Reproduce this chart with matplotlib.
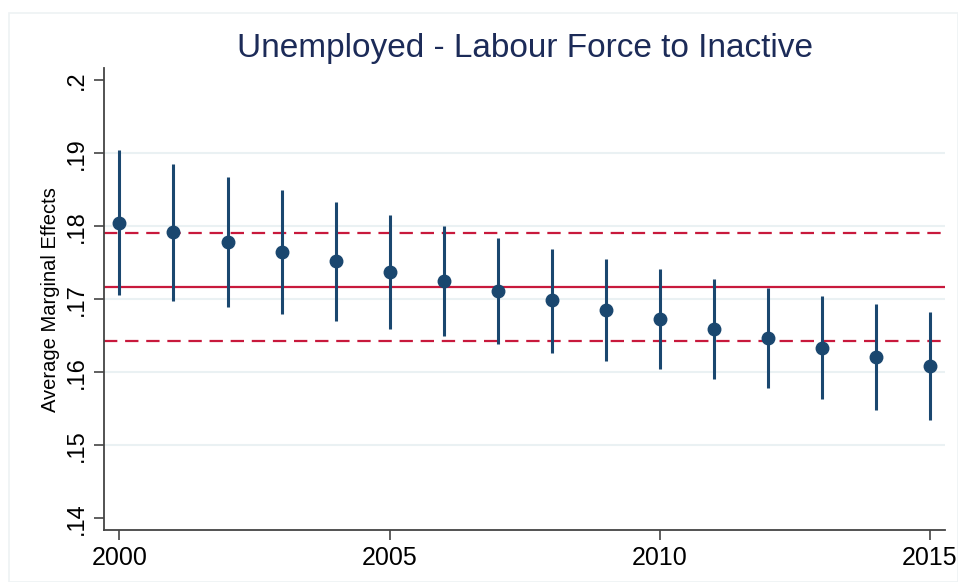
import matplotlib
matplotlib.use("Agg")
import matplotlib.pyplot as plt
from matplotlib.patches import Rectangle

years = list(range(2000, 2016))
margins = [0.1805, 0.1792, 0.1778, 0.1765, 0.1752, 0.1738, 0.1725, 0.1712,
           0.1699, 0.1685, 0.1673, 0.1660, 0.1647, 0.1634, 0.1621, 0.1609]
ci_upper = [0.1904, 0.1885, 0.1867, 0.1850, 0.1833, 0.1816, 0.1800, 0.1784,
            0.1769, 0.1755, 0.1741, 0.1728, 0.1716, 0.1704, 0.1693, 0.1682]
ci_lower = [0.1706, 0.1698, 0.1689, 0.1680, 0.1670, 0.1660, 0.1650, 0.1639,
            0.1627, 0.1616, 0.1604, 0.1591, 0.1578, 0.1564, 0.1549, 0.1535]

pooled = 0.1717
pooled_upper = 0.1791
pooled_lower = 0.1643

yticks = [0.14, 0.15, 0.16, 0.17, 0.18, 0.19, 0.20]
ytick_labels = [".14", ".15", ".16", ".17", ".18", ".19", ".2"]
xticks = [2000, 2005, 2010, 2015]

navy = "#1a476f"
red = "#c8193c"
title_color = "#1c2b58"

plt.rcParams["font.family"] = ["Liberation Sans", "DejaVu Sans"]

fig = plt.figure(figsize=(9.58, 5.82), dpi=100)
ax = fig.add_axes([0.1089, 0.0888, 0.8775, 0.7938])

# faint outline of the graph region
fig.patches.append(Rectangle((9 / 958, 0), 1 - 9 / 958, 1 - 13 / 582,
                             transform=fig.transFigure, fill=False,
                             edgecolor="#eef2f4", linewidth=1.2))

# reference lines for the pooled estimate
ax.axhline(pooled, color=red, linewidth=1.6, zorder=2)
ax.axhline(pooled_upper, color=red, linewidth=1.6, linestyle=(0, (6, 3.5)), zorder=2)
ax.axhline(pooled_lower, color=red, linewidth=1.6, linestyle=(0, (6, 3.5)), zorder=2)

# confidence intervals and point estimates
ax.vlines(years, ci_lower, ci_upper, color=navy, linewidth=2.2, zorder=3)
ax.plot(years, margins, "o", color=navy, markersize=9, zorder=4)

ax.set_xlim(1999.72, 2015.28)
ax.set_ylim(0.13836, 0.20164)
ax.set_xticks(xticks)
ax.set_yticks(yticks)
ax.set_yticklabels(ytick_labels, rotation=90, va="center")
ax.tick_params(axis="both", direction="out", length=7, width=1.2,
               color="#444444", labelsize=17, pad=5)
ax.tick_params(axis="x", labelsize=18, pad=4)

ax.grid(axis="y", color="#eaf1f3", linewidth=1.5, zorder=0)
gl = ax.get_ygridlines()
gl[0].set_visible(False)
gl[-1].set_visible(False)
ax.set_axisbelow(True)

for side in ["top", "right"]:
    ax.spines[side].set_visible(False)
for side in ["left", "bottom"]:
    ax.spines[side].set_color("#444444")
    ax.spines[side].set_linewidth(1.3)

ax.set_ylabel("Average Marginal Effects", fontsize=14.5, labelpad=4)
ax.set_title("Unemployed - Labour Force to Inactive", fontsize=24,
             color=title_color, pad=8)

fig.savefig("out.png", dpi=100)
